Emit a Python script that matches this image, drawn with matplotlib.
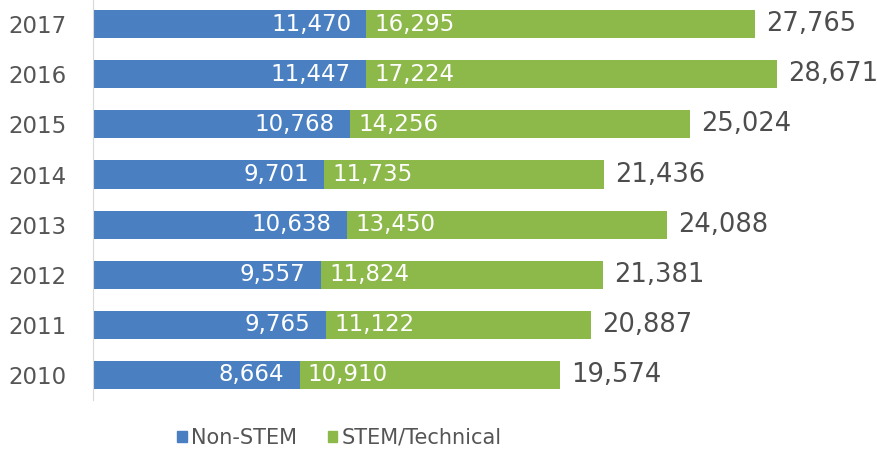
import matplotlib.pyplot as plt
from matplotlib.patches import Patch

years = ['2010', '2011', '2012', '2013', '2014', '2015', '2016', '2017']
non_stem = [8664, 9765, 9557, 10638, 9701, 10768, 11447, 11470]
stem = [10910, 11122, 11824, 13450, 11735, 14256, 17224, 16295]
totals = [19574, 20887, 21381, 24088, 21436, 25024, 28671, 27765]

blue = '#4a7fc2'
green = '#8db94a'
grey = '#555555'

plt.rcParams['font.family'] = ['DejaVu Sans']

fig = plt.figure(figsize=(8.77, 4.49), dpi=100)
ax = fig.add_axes([0.106, 0.109, 0.870, 0.893])

y = list(range(len(years)))
ax.barh(y, non_stem, height=0.56, color=blue)
ax.barh(y, stem, left=non_stem, height=0.56, color=green)

for i in y:
    ax.annotate(f'{non_stem[i]:,}', (non_stem[i], i), xytext=(-11, 0),
                textcoords='offset points', ha='right', va='center',
                color='white', fontsize=16.5)
    ax.annotate(f'{stem[i]:,}', (non_stem[i], i), xytext=(6, 0),
                textcoords='offset points', ha='left', va='center',
                color='white', fontsize=16.5)
    ax.annotate(f'{totals[i]:,}', (totals[i], i), xytext=(8, 0),
                textcoords='offset points', ha='left', va='center',
                color='#4d4d4d', fontsize=18.5, annotation_clip=False)

ax.set_xlim(0, 32000)
ax.set_ylim(-0.5, 7.5)
ax.set_yticks(y)
ax.set_yticklabels(years, fontsize=16.5, color=grey, ha='left')
ax.tick_params(axis='y', length=0, pad=61)
ax.set_xticks([])
for side in ['top', 'right', 'bottom']:
    ax.spines[side].set_visible(False)
ax.spines['left'].set_color('#d9d9d9')

handles = [Patch(color=blue, label='Non-STEM'), Patch(color=green, label='STEM/Technical')]
leg = fig.legend(handles=handles, loc='center', bbox_to_anchor=(0.387, 0.025),
                 ncol=2, frameon=False, fontsize=15, handlelength=0.45,
                 handleheight=0.45, handletextpad=0.2, columnspacing=1.5)
for t in leg.get_texts():
    t.set_color(grey)

fig.savefig('out.png', dpi=100)
